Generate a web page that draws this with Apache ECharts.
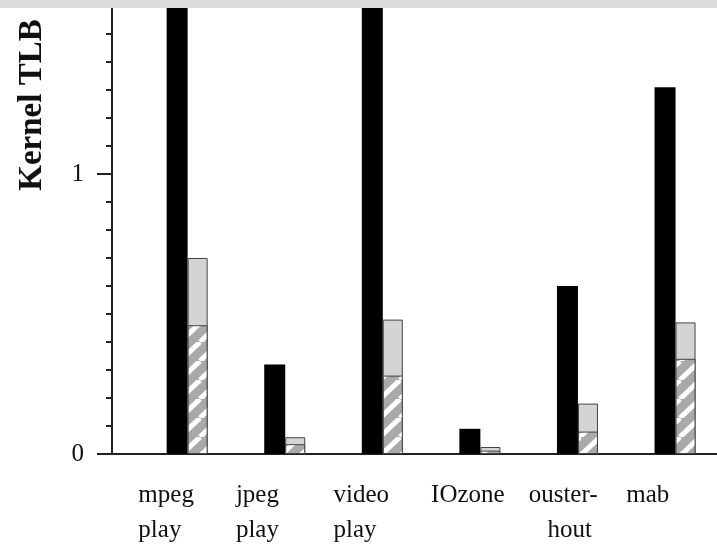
<!DOCTYPE html>
<html>
<head>
<meta charset="utf-8">
<script src="https://cdn.jsdelivr.net/npm/echarts@6/dist/echarts.min.js"></script>
<style>
  html, body { margin: 0; padding: 0; background: #fff; }
  #TlbChart { width: 717px; height: 546px; }
</style>
</head>
<body>
<div id="TlbChart"></div>
<script>
// benchmark names (line breaks as in the figure)
const categories = ['mpeg\nplay', 'jpeg\nplay', 'video\nplay', 'IOzone', 'ouster-\n   hout', 'mab'];
// black bars (mpeg play / video play run off the top of the plot)
const blackValues = [1.8, 0.32, 1.8, 0.09, 0.60, 1.31];
// light gray bars (full height)
const grayValues = [0.70, 0.06, 0.48, 0.025, 0.18, 0.47];
// hatched part drawn over the bottom of the gray bars
const hatchedValues = [0.46, 0.035, 0.28, 0.012, 0.08, 0.34];
const majorTicks = [0, 1];

// diagonal hatch tile
const makeHatch = () => {
  const c = document.createElement('canvas');
  c.width = 20;
  c.height = 19;
  const ctx = c.getContext('2d');
  ctx.fillStyle = '#a9a9a9';
  ctx.fillRect(0, 0, 20, 19);
  ctx.strokeStyle = '#ffffff';
  ctx.lineWidth = 5;
  [-20, 0, 20].forEach(dx => {
    ctx.beginPath();
    ctx.moveTo(dx, 19);
    ctx.lineTo(dx + 20, 0);
    ctx.stroke();
  });
  return c;
};

const chart = echarts.init(document.getElementById('TlbChart'));
const serif = '"Liberation Serif", "DejaVu Serif", serif';

const option = {
  animation: false,
  grid: { left: 112, right: 0, top: 6, bottom: 92, outerBoundsMode: 'none' },
  xAxis: {
    type: 'value',
    min: -0.77,
    max: 5.43,
    splitLine: { show: false },
    axisTick: { show: false },
    axisLine: { show: true, onZero: false, lineStyle: { color: '#222', width: 2 } },
    axisLabel: {
      customValues: categories.map((_, i) => i - 0.5),
      formatter: v => categories[Math.round(v + 0.5)],
      align: 'left',
      margin: 24,
      color: '#111',
      fontFamily: serif,
      fontSize: 25,
      lineHeight: 35
    }
  },
  yAxis: [
    {
      type: 'value',
      min: 0,
      max: 1.6,
      position: 'left',
      splitLine: { show: false },
      axisLine: { show: true, onZero: false, lineStyle: { color: '#222', width: 2 } },
      axisTick: { show: true, customValues: majorTicks, length: 15, lineStyle: { color: '#222', width: 2 } },
      axisLabel: {
        customValues: majorTicks,
        margin: 28,
        color: '#111',
        fontFamily: serif,
        fontSize: 25
      }
    },
    {
      type: 'value',
      min: 0,
      max: 1.6,
      interval: 0.1,
      position: 'left',
      splitLine: { show: false },
      axisLine: { show: false, onZero: false },
      axisTick: { show: true, length: 6, lineStyle: { color: '#222', width: 2 } },
      axisLabel: { show: false }
    }
  ],
  graphic: [
    {
      type: 'text',
      x: 32,
      y: 105,
      rotation: Math.PI / 2,
      style: {
        text: 'Kernel TLB',
        font: 'bold 33px "Liberation Serif", serif',
        fill: '#111',
        align: 'center',
        verticalAlign: 'middle'
      }
    },
    {
      type: 'rect',
      z: 100,
      shape: { x: 0, y: 0, width: 717, height: 8 },
      style: { fill: '#dcdcdc' }
    }
  ],
  series: [
    {
      name: 'black',
      type: 'bar',
      barWidth: 21,
      barGap: '0%',
      clip: true,
      itemStyle: { color: '#000' },
      data: blackValues.map((v, i) => [i, v])
    },
    {
      // same column as the hatched bars, drawn underneath them
      name: 'gray',
      type: 'bar',
      stack: 'gray',
      barWidth: 20,
      clip: true,
      itemStyle: { color: '#d4d4d4', borderColor: '#444', borderWidth: 1 },
      data: grayValues.map((v, i) => [i, v])
    },
    {
      name: 'hatched',
      type: 'bar',
      stack: 'gray',
      barWidth: 20,
      clip: true,
      itemStyle: { color: { image: makeHatch(), repeat: 'repeat' }, borderColor: '#444', borderWidth: 1 },
      data: hatchedValues.map((v, i) => [i, v])
    }
  ]
};

chart.setOption(option);
</script>
</body>
</html>
